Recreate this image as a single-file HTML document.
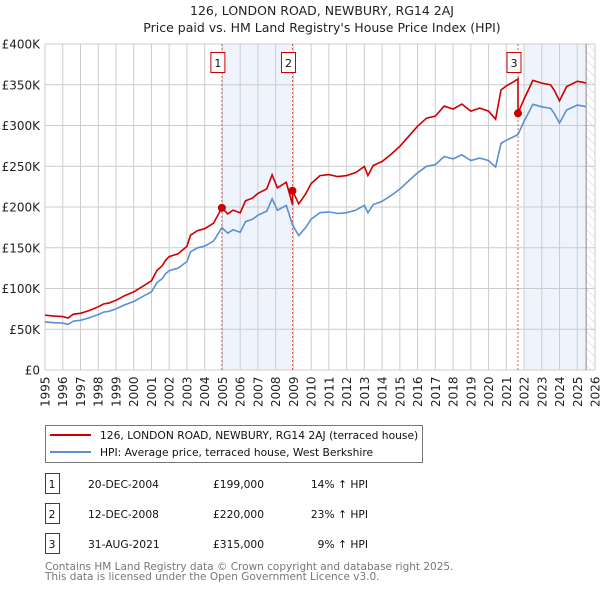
<!DOCTYPE html>
<html><head><meta charset="utf-8">
<style>
body{margin:0;background:#fff;font-family:"DejaVu Sans","Liberation Sans",sans-serif;}
svg text{font-family:"DejaVu Sans","Liberation Sans",sans-serif;}
</style></head>
<body>
<svg id="chart" width="600" height="590" xmlns="http://www.w3.org/2000/svg">
<defs>
<pattern id="hatch" width="6" height="6" patternUnits="userSpaceOnUse" patternTransform="rotate(-45)">
<line x1="0" y1="0" x2="0" y2="6" stroke="#ccc" stroke-width="1"/>
</pattern>
</defs>
<text x="322" y="15" text-anchor="middle" font-size="12.5" fill="#222">126, LONDON ROAD, NEWBURY, RG14 2AJ</text>
<text x="322" y="32" text-anchor="middle" font-size="12.5" fill="#222">Price paid vs. HM Land Registry's House Price Index (HPI)</text>
<g id="plot"></g>
<g>
<rect x="45.5" y="425.5" width="377" height="37" fill="#fff" stroke="#777"/>
<line x1="50" y1="435" x2="91" y2="435" stroke="#cc0000" stroke-width="2"/>
<text x="100" y="439" font-size="10.7" fill="#111">126, LONDON ROAD, NEWBURY, RG14 2AJ (terraced house)</text>
<line x1="50" y1="452" x2="91" y2="452" stroke="#5b8fd4" stroke-width="2"/>
<text x="100" y="456" font-size="10.7" fill="#111">HPI: Average price, terraced house, West Berkshire</text>
</g>
<g id="table" font-size="10.7" fill="#111"></g>
<text x="45" y="570" font-size="10.5" fill="#777">Contains HM Land Registry data © Crown copyright and database right 2025.</text>
<text x="45" y="580" font-size="10.5" fill="#777">This data is licensed under the Open Government Licence v3.0.</text>
</svg>
<script>
const hpiYears=[1995,1995.5,1996,1996.3,1996.6,1997,1997.5,1998,1998.3,1998.6,1999,1999.5,2000,2000.5,2001,2001.3,2001.6,2001.8,2002,2002.5,2003,2003.2,2003.6,2004,2004.5,2004.97,2005.3,2005.6,2006,2006.3,2006.7,2007,2007.5,2007.8,2008.1,2008.6,2008.95,2009.3,2009.7,2010,2010.5,2011,2011.5,2012,2012.5,2013,2013.2,2013.5,2014,2014.5,2015,2015.5,2016,2016.5,2017,2017.5,2018,2018.5,2019,2019.5,2020,2020.4,2020.7,2021,2021.4,2021.66,2022,2022.5,2023,2023.5,2023.7,2024,2024.4,2025,2025.3,2025.5];
const hpiValues=[59,58,57.5,56,60,61,64,68,71,72,75,80,84,90,96,107,112,118,122,125,133,145,150,152,158,174.5,168,172,169,182,185,190,195,210,196,202,178,165,175,185,193,194,192,193,196,202,193,203,207,214,222,232,242,250,252,262,259,264,257,260,257,249,278,282,286,289,305,326,323,321,315,303,319,325,324,323];
const saleYears=[2004.97,2008.95,2021.66];
const salePrices=[199,220,315];
const saleLabels=["1","2","3"];
const saleDates=["20-DEC-2004","12-DEC-2008","31-AUG-2021"];
const salePriceText=["£199,000","£220,000","£315,000"];
const saleDiffText=["14% ↑ HPI","23% ↑ HPI","9% ↑ HPI"];
const yTicks=[0,50,100,150,200,250,300,350,400];
const yTickLabels=["£0","£50K","£100K","£150K","£200K","£250K","£300K","£350K","£400K"];
const xTicks=[1995,1996,1997,1998,1999,2000,2001,2002,2003,2004,2005,2006,2007,2008,2009,2010,2011,2012,2013,2014,2015,2016,2017,2018,2019,2020,2021,2022,2023,2024,2025,2026];

const NS="http://www.w3.org/2000/svg";
const L=45,R=595,T=44,B=370;
const xs=y=>L+(y-1995)/(2026-1995)*(R-L);
const ys=v=>B-v/400*(B-T);
const plot=document.getElementById('plot');
function mk(tag,attrs,parent){const e=document.createElementNS(NS,tag);for(const k in attrs)e.setAttribute(k,attrs[k]);(parent||plot).appendChild(e);return e;}
function interp(t){for(let i=0;i<hpiYears.length-1;i++){if(t>=hpiYears[i]&&t<=hpiYears[i+1]){const f=(t-hpiYears[i])/(hpiYears[i+1]-hpiYears[i]);return hpiValues[i]+f*(hpiValues[i+1]-hpiValues[i]);}}return hpiValues[hpiValues.length-1];}

let sh=mk('rect',{x:xs(saleYears[0]),y:T,width:xs(saleYears[1])-xs(saleYears[0]),height:B-T,fill:'#eef3fc'});


let sh2=mk('rect',{x:xs(2022),y:T,width:xs(2025.5)-xs(2022),height:B-T,fill:'#eef3fc'});


let ht=mk('rect',{x:xs(2025.5),y:T,width:R-xs(2025.5),height:B-T,fill:'url(#hatch)'});


xTicks.forEach((t,i)=>{
 const g=mk('line',{x1:xs(t),x2:xs(t),y1:T,y2:B,stroke:'#ccc','stroke-width':1});
 
 
 const lab=mk('text',{x:0,y:0,transform:`translate(${xs(t)+4.5},${B+37}) rotate(-90)`,'font-size':12,fill:'#222'});
 lab.textContent=t;
 
 
});
yTicks.forEach((v,i)=>{
 const g=mk('line',{x1:L,x2:R,y1:ys(v),y2:ys(v),stroke:'#ccc','stroke-width':1});
 
 
 const lab=mk('text',{x:40,y:ys(v)+4.5,'text-anchor':'end','font-size':12,fill:'#222'});
 lab.textContent=yTickLabels[i];
 
 
});
const ax=mk('line',{x1:xs(2025.5),x2:xs(2025.5),y1:T,y2:B,stroke:'#888','stroke-width':1});


saleYears.forEach((t,i)=>{
 const l=mk('line',{x1:xs(t),x2:xs(t),y1:T,y2:B,stroke:'#e55','stroke-width':1,'stroke-dasharray':'2,2'});
 
 
});
let d='';hpiYears.forEach((t,i)=>{d+=(i?'L':'M')+xs(t).toFixed(1)+','+ys(hpiValues[i]).toFixed(1);});
const hp=mk('path',{d:d,fill:'none',stroke:'#5b8fd4','stroke-width':1.6});


function ratioAt(t){let k=0;for(let i=0;i<saleYears.length;i++)if(t>=saleYears[i])k=i;return salePrices[k]/interp(saleYears[k]);}
let pts=[];
hpiYears.forEach((t,i)=>{
 saleYears.forEach((s,k)=>{if(i>0&&s>hpiYears[i-1]&&s<=t){const r0=k>0?salePrices[k-1]/interp(saleYears[k-1]):salePrices[0]/interp(saleYears[0]);pts.push([s,interp(s)*r0]);pts.push([s,salePrices[k]]);}});
 pts.push([t,hpiValues[i]*ratioAt(t)]);
});
let d2='';pts.forEach((p,i)=>{d2+=(i?'L':'M')+xs(p[0]).toFixed(1)+','+ys(p[1]).toFixed(1);});
const pp=mk('path',{d:d2,fill:'none',stroke:'#cc0000','stroke-width':1.6});


saleYears.forEach((t,i)=>{
 const c=mk('circle',{cx:xs(t),cy:ys(salePrices[i]),r:4,fill:'#cc0000'});
 
 
 const b=mk('rect',{x:xs(t)-11,y:52.5,width:14,height:20,fill:'#fff',stroke:'#cc0000'});
 
 
 const tx=mk('text',{x:xs(t)-4,y:67,'text-anchor':'middle','font-size':11,fill:'#111'});
 tx.textContent=saleLabels[i];
 
 
});
const tb=document.getElementById('table');
saleLabels.forEach((lab,i)=>{
 const y=474+i*30;
 const b=mk('rect',{x:45.5,y:y-0.5,width:14,height:20,fill:'#fff',stroke:'#cc0000'},tb);
 
 
 const cells=[[52,lab,'middle'],[88,saleDates[i],'start'],[264,salePriceText[i],'end'],[368,saleDiffText[i],'end']];
 cells.forEach(c=>{
  const t=mk('text',{x:c[0],y:y+14,'text-anchor':c[2]},tb);
  t.textContent=c[1];
  
  
 });
});
</script>
</body></html>
